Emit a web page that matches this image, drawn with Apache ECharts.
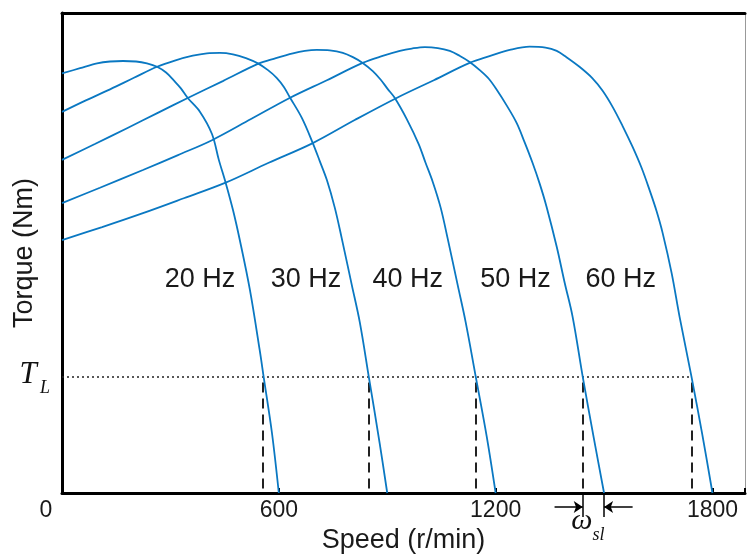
<!DOCTYPE html>
<html>
<head>
<meta charset="utf-8">
<script src="https://cdn.jsdelivr.net/npm/echarts@6/dist/echarts.min.js"></script>
<style>
  html, body { margin: 0; padding: 0; background: #fff; }
  #chart { width: 748px; height: 559px; }
</style>
</head>
<body>
<div id="chart"></div>
<script>
// speed in r/min, torque in relative units (0..100 = full plot height)
const speedMax = 1890;
const speedStep = 600;
const torqueMax = 100;
const TL = 24.2; // load torque level

const freqNames = ['20 Hz', '30 Hz', '40 Hz', '50 Hz', '60 Hz'];

const hz20 = [[0, 87.4], [50, 88.5], [97, 89.5], [133, 89.9], [169, 90.0], [205, 89.9], [235, 89.5], [263, 88.8],
  [288, 87.6], [310, 85.9], [329, 84.3], [348, 82.3], [382, 79.4], [415, 74.8], [434, 69.4], [453, 64.6],
  [473, 59.0], [492, 52.7], [520, 42.3], [547, 29.8], [558, 24.2], [581, 12.5], [600, 0]];
const hz30 = [[0, 79.4], [66, 81.8], [133, 84.1], [199, 86.5], [263, 88.8], [312, 90.1], [362, 91.1], [401, 91.6],
  [437, 91.7], [473, 91.4], [509, 90.6], [542, 89.5], [570, 88.1], [594, 86.5], [614, 84.6], [630, 82.5],
  [664, 78.1], [694, 72.9], [713, 69.2], [733, 65.2], [755, 59.4], [774, 53.1], [802, 43.3], [824, 35.6],
  [849, 24.2], [879, 10.4], [900, 0]];
const hz40 = [[0, 69.4], [91, 72.7], [180, 76.0], [265, 79.2], [348, 82.3], [445, 85.8], [542, 89.4], [592, 90.6],
  [639, 91.6], [672, 92.1], [705, 92.3], [741, 92.2], [777, 91.7], [805, 90.8], [832, 89.6], [860, 87.9],
  [882, 86.1], [901, 84.2], [921, 82.3], [954, 77.9], [987, 72.7], [1006, 68.8], [1026, 64.8], [1048, 59.4],
  [1067, 53.1], [1095, 43.3], [1117, 35.6], [1145, 24.2], [1175, 11.9], [1200, 0]];
const hz50 = [[0, 60.4], [105, 63.6], [224, 67.3], [321, 70.4], [415, 73.5], [523, 77.9], [630, 82.3], [733, 86.0],
  [832, 89.6], [885, 91.0], [935, 92.1], [968, 92.6], [1004, 92.9], [1040, 92.7], [1073, 92.1], [1100, 91.1],
  [1128, 89.8], [1156, 88.1], [1181, 86.3], [1203, 84.0], [1230, 80.8], [1258, 77.1], [1280, 73.1],
  [1302, 68.8], [1322, 64.4], [1341, 59.6], [1369, 51.3], [1391, 43.8], [1413, 36.7], [1441, 24.2],
  [1471, 11.7], [1500, 0]];
const hz60 = [[0, 52.7], [111, 55.4], [224, 58.3], [337, 61.4], [451, 64.6], [572, 68.8], [694, 72.9], [810, 77.7],
  [926, 82.3], [1029, 86.0], [1128, 89.6], [1183, 91.0], [1239, 92.3], [1294, 93.0], [1338, 92.8], [1369, 92.1],
  [1396, 90.8], [1432, 88.8], [1468, 86.4], [1496, 83.8], [1524, 80.4], [1551, 76.5], [1579, 72.1],
  [1604, 67.7], [1626, 63.1], [1645, 58.8], [1662, 54.2], [1687, 45.8], [1709, 36.7], [1742, 24.2],
  [1772, 12.1], [1800, 0]];
const curves = [hz20, hz30, hz40, hz50, hz60];

// label positions for the frequency names
const hzLabelSpeed = [382, 675, 957, 1255, 1546];
const hzLabelTorque = 44.4;

// speeds where each curve meets T_L
const loadSpeeds = [555, 849, 1145, 1441, 1742];

// slip speed marker (50 Hz curve)
const slipFrom = 1441;
const slipTo = 1500;
const arrowLeftStart = 1363;
const arrowRightStart = 1579;
const arrowLevel = -2.9;
const markBottom = -5;

const blue = '#0a78c2';
const ink = '#1a1a1a';
const sans = '"Liberation Sans", Arial, sans-serif';

const chart = echarts.init(document.getElementById('chart'));

const curveSeries = freqNames.map((name, i) => ({
  name: name,
  type: 'line',
  data: curves[i],
  smooth: 0.35,
  symbol: 'none',
  lineStyle: { color: blue, width: 1.8 },
  z: 3,
  silent: true
}));

const option = {
  animation: false,
  grid: { left: 62, right: 2, top: 13, bottom: 66 },
  xAxis: [
    {
      type: 'value',
      min: 0,
      max: speedMax,
      interval: speedStep,
      name: 'Speed (r/min)',
      nameLocation: 'middle',
      nameGap: 34,
      nameTextStyle: { color: ink, fontSize: 27, fontFamily: sans },
      axisLine: { show: true, onZero: false, lineStyle: { color: '#000', width: 3 } },
      axisTick: { show: true, inside: true, length: 5, lineStyle: { color: '#000', width: 2 } },
      axisLabel: {
        margin: 6,
        color: ink,
        fontSize: 23,
        fontFamily: sans,
        formatter: function (v) {
          if (v % speedStep !== 0) return '';
          return v === 0 ? '{z|0}' : String(v);
        },
        rich: { z: { padding: [0, 32, 0, 0], color: ink, fontSize: 23, fontFamily: sans } }
      },
      splitLine: { show: false }
    },
    {
      type: 'value',
      position: 'top',
      min: 0,
      max: speedMax,
      axisLine: { show: true, onZero: false, lineStyle: { color: '#000', width: 3 } },
      axisTick: { show: false },
      axisLabel: { show: false },
      splitLine: { show: false }
    }
  ],
  yAxis: [
    {
      type: 'value',
      min: 0,
      max: torqueMax,
      name: 'Torque (Nm)',
      nameLocation: 'middle',
      nameGap: 24,
      nameTextStyle: { color: ink, fontSize: 27, fontFamily: sans },
      axisLine: { show: true, onZero: false, lineStyle: { color: '#000', width: 3 } },
      axisTick: { show: false },
      axisLabel: { show: false },
      splitLine: { show: false }
    },
    {
      type: 'value',
      position: 'right',
      min: 0,
      max: torqueMax,
      axisLine: { show: true, onZero: false, lineStyle: { color: '#999', width: 1 } },
      axisTick: { show: false },
      axisLabel: { show: false },
      splitLine: { show: false }
    }
  ],
  series: curveSeries.concat([
    {
      // dotted load-torque line
      type: 'lines',
      coordinateSystem: 'cartesian2d',
      silent: true,
      z: 2,
      symbol: 'none',
      lineStyle: { color: '#222', width: 1.5, type: [2, 3], opacity: 1 },
      data: [{ coords: [[0, TL], [loadSpeeds[loadSpeeds.length - 1], TL]] }]
    },
    {
      // dashed drops to the speed axis
      type: 'lines',
      coordinateSystem: 'cartesian2d',
      silent: true,
      z: 2,
      symbol: 'none',
      lineStyle: { color: '#222', width: 2, type: [10, 6], opacity: 1 },
      data: loadSpeeds.map(s => ({ coords: [[s, TL - 1.2], [s, 0]] }))
    },
    {
      // slip speed marks below the axis
      type: 'lines',
      coordinateSystem: 'cartesian2d',
      silent: true,
      clip: false,
      z: 4,
      symbol: 'none',
      lineStyle: { color: '#000', width: 1.5, opacity: 1 },
      data: [
        { coords: [[slipFrom, 0], [slipFrom, markBottom]] },
        { coords: [[slipTo, 0], [slipTo, markBottom]] }
      ]
    },
    {
      type: 'lines',
      coordinateSystem: 'cartesian2d',
      silent: true,
      clip: false,
      z: 4,
      symbol: ['none', 'arrow'],
      symbolSize: 9,
      lineStyle: { color: '#000', width: 1.5, opacity: 1 },
      data: [
        { coords: [[arrowLeftStart, arrowLevel], [slipFrom, arrowLevel]] },
        { coords: [[arrowRightStart, arrowLevel], [slipTo, arrowLevel]] }
      ]
    },
    {
      // frequency labels
      type: 'scatter',
      silent: true,
      symbolSize: 0,
      z: 5,
      itemStyle: { opacity: 1 },
      data: freqNames.map((n, i) => [hzLabelSpeed[i], hzLabelTorque, n]),
      label: {
        show: true,
        position: 'inside',
        formatter: p => p.value[2],
        color: ink,
        opacity: 1,
        fontSize: 27,
        fontFamily: sans
      }
    }
  ])
};

chart.setOption(option);

// T_L and omega_sl annotations, placed through the axes' own scales
const tlPos = chart.convertToPixel({ gridIndex: 0 }, [0, TL]);
const slPos = chart.convertToPixel({ gridIndex: 0 }, [(slipFrom + slipTo) / 2, 0]);
const serif = '"Liberation Serif", "Times New Roman", serif';
chart.setOption({
  graphic: [
    { type: 'text', x: tlPos[0] - 34, y: tlPos[1] - 2, silent: true,
      style: { text: 'T', font: 'italic 31px ' + serif, fill: '#111', align: 'center', verticalAlign: 'middle' } },
    { type: 'text', x: tlPos[0] - 22, y: tlPos[1] + 11, silent: true,
      style: { text: 'L', font: 'italic 18px ' + serif, fill: '#111', align: 'left', verticalAlign: 'middle' } },
    { type: 'text', x: slPos[0] - 1, y: slPos[1] + 28, silent: true,
      style: { text: 'ω', font: 'italic 30px ' + serif, fill: '#111', align: 'right', verticalAlign: 'middle' } },
    { type: 'text', x: slPos[0] - 1, y: slPos[1] + 42, silent: true,
      style: { text: 'sl', font: 'italic 18px ' + serif, fill: '#111', align: 'left', verticalAlign: 'middle' } }
  ]
});

window.addEventListener('resize', () => {
  chart.resize();
});
</script>
</body>
</html>
